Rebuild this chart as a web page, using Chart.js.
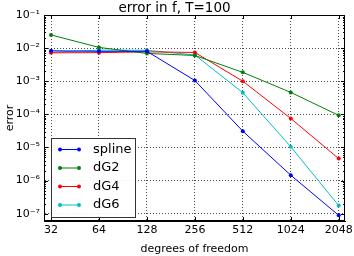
<!DOCTYPE html>
<html>
<head>
<meta charset="utf-8">
<script src="https://cdn.jsdelivr.net/npm/chart.js@4"></script>
<style>
  html, body { margin: 0; padding: 0; background: #fff; }
  #chart { display: block; }
</style>
</head>
<body>
<canvas id="chart" width="354" height="256"></canvas>
<script>
// degrees of freedom on the x axis
const dof = [32, 64, 128, 256, 512, 1024, 2048];
const xTickLabels = ["32", "64", "128", "256", "512", "1024", "2048"];

// error per method
const spline = [8.3e-3, 8.0e-3, 8.0e-3, 1.05e-3, 3.1e-5, 1.45e-6, 8.9e-8];
const dG2 = [2.5e-2, 1.05e-2, 6.9e-3, 6.0e-3, 1.85e-3, 4.6e-4, 9.3e-5];
const dG4 = [7.2e-3, 7.3e-3, 7.7e-3, 7.4e-3, 1.0e-3, 7.5e-5, 4.6e-6];
const dG6 = [7.5e-3, 8.7e-3, 8.6e-3, 6.2e-3, 4.5e-4, 1.05e-5, 1.75e-7];

const yTicks = [1e-7, 1e-6, 1e-5, 1e-4, 1e-3, 1e-2, 1e-1];
const yTickLabels = ["10⁻⁷", "10⁻⁶", "10⁻⁵", "10⁻⁴", "10⁻³", "10⁻²", "10⁻¹"];

const FONT = "'DejaVu Sans', sans-serif";

function series(label, vals, color) {
  return {
    label: label,
    data: dof.map((d, i) => ({ x: d, y: vals[i] })),
    borderColor: color,
    backgroundColor: color,
    borderWidth: 1,
    pointRadius: 2,
    pointBorderWidth: 0,
    pointStyle: "circle",
    tension: 0,
  };
}

// frame, inward ticks and the legend box
const framePlugin = {
  id: "frame",
  afterDraw(chart) {
    const ctx = chart.ctx;
    const a = chart.chartArea;
    const xs = chart.scales.x;
    const ys = chart.scales.y;
    ctx.save();
    ctx.strokeStyle = "#000";
    ctx.lineWidth = 1;
    ctx.setLineDash([]);
    ctx.strokeRect(a.left + 0.5, a.top + 0.5, a.right - a.left - 1, a.bottom - a.top - 1);

    ctx.beginPath();
    dof.forEach(d => {
      const px = Math.round(xs.getPixelForValue(d)) + 0.5;
      ctx.moveTo(px, a.bottom); ctx.lineTo(px, a.bottom - 4);
      ctx.moveTo(px, a.top); ctx.lineTo(px, a.top + 4);
    });
    yTicks.forEach(v => {
      const py = Math.round(ys.getPixelForValue(v)) + 0.5;
      ctx.moveTo(a.left, py); ctx.lineTo(a.left + 4, py);
      ctx.moveTo(a.right, py); ctx.lineTo(a.right - 4, py);
      for (let m = 2; m <= 9 && v < 0.1; m++) {
        const pm = Math.round(ys.getPixelForValue(v * m)) + 0.5;
        ctx.moveTo(a.left, pm); ctx.lineTo(a.left + 2, pm);
        ctx.moveTo(a.right, pm); ctx.lineTo(a.right - 2, pm);
      }
    });
    ctx.stroke();

    // legend
    const x0 = a.left + 7, w = 84, h = 79;
    const y0 = a.bottom - 4 - h;
    ctx.fillStyle = "rgba(255,255,255,0.9)";
    ctx.fillRect(x0, y0, w, h);
    ctx.strokeStyle = "#333";
    ctx.strokeRect(x0 + 0.5, y0 + 0.5, w, h);
    ctx.font = "13px " + FONT;
    ctx.textBaseline = "middle";
    chart.data.datasets.forEach((ds, i) => {
      const cy = y0 + 11.5 + i * 18.5;
      ctx.strokeStyle = ds.borderColor;
      ctx.fillStyle = ds.borderColor;
      ctx.beginPath();
      ctx.moveTo(x0 + 9, cy); ctx.lineTo(x0 + 28, cy);
      ctx.stroke();
      [x0 + 9, x0 + 28].forEach(px => {
        ctx.beginPath(); ctx.arc(px, cy, 2, 0, Math.PI * 2); ctx.fill();
      });
      ctx.fillStyle = "#000";
      ctx.textAlign = "left";
      ctx.fillText(ds.label, x0 + 42, cy);
    });
    ctx.restore();
  },
};

new Chart(document.getElementById("chart").getContext("2d"), {
  type: "line",
  data: {
    datasets: [
      series("spline", spline, "#0000ff"),
      series("dG2", dG2, "#008000"),
      series("dG4", dG4, "#ff0000"),
      series("dG6", dG6, "#00bfbf"),
    ],
  },
  options: {
    responsive: false,
    animation: false,
    layout: { padding: { left: 4, right: 9, top: 0, bottom: 0 } },
    plugins: {
      legend: { display: false },
      tooltip: { enabled: false },
      title: {
        display: true,
        text: "error in f, T=100",
        color: "#000",
        font: { family: FONT, size: 13.5, weight: "normal", lineHeight: 13 / 13.5 },
        padding: { top: 2, bottom: 0 },
      },
    },
    scales: {
      x: {
        type: "logarithmic",
        min: 28.9,
        max: 2243,
        afterBuildTicks: s => { s.ticks = dof.map(v => ({ value: v })); },
        afterFit: s => { s.height = 35; s.paddingLeft = 0; s.paddingRight = 0; },
        ticks: {
          autoSkip: false,
          maxRotation: 0,
          padding: 3,
          color: "#000",
          font: { family: FONT, size: 11 },
          callback: (v) => xTickLabels[dof.indexOf(v)],
        },
        grid: { color: "rgba(0,0,0,0.7)", drawTicks: false, lineWidth: 1 },
        border: { display: true, color: "#000", width: 1, dash: [1, 2] },
        title: {
          display: true,
          text: "degrees of freedom",
          color: "#000",
          font: { family: FONT, size: 11 },
          padding: { top: 1, bottom: 0 },
        },
      },
      y: {
        type: "logarithmic",
        min: Math.pow(10, -7.21),
        max: 0.1,
        afterBuildTicks: s => { s.ticks = yTicks.map(v => ({ value: v })); },
        afterFit: s => { s.width = 40; },
        ticks: {
          autoSkip: false,
          padding: 4,
          color: "#000",
          font: { family: FONT, size: 11 },
          callback: (v) => yTickLabels[yTicks.findIndex(t => Math.abs(Math.log10(t) - Math.log10(v)) < 1e-6)],
        },
        grid: { color: "rgba(0,0,0,0.7)", drawTicks: false, lineWidth: 1 },
        border: { display: true, color: "#000", width: 1, dash: [1, 2] },
        title: {
          display: true,
          text: "error",
          color: "#000",
          font: { family: FONT, size: 11 },
          padding: { top: 0, bottom: 0 },
        },
      },
    },
  },
  plugins: [framePlugin],
});
</script>
</body>
</html>
